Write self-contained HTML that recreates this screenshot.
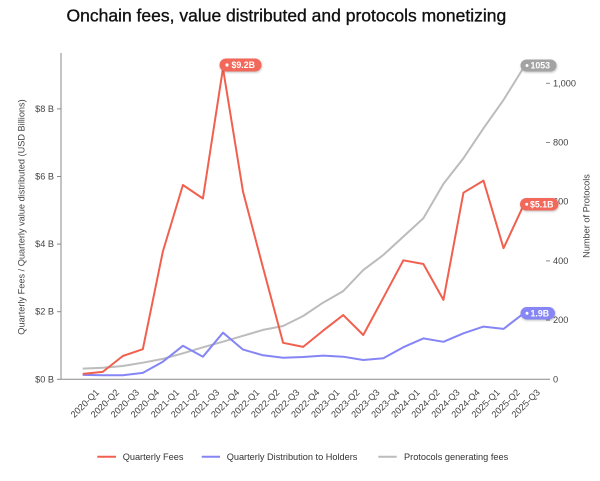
<!DOCTYPE html>
<html>
<head>
<meta charset="utf-8">
<style>
  html,body{margin:0;padding:0;background:#ffffff;}
  body{width:600px;height:481px;overflow:hidden;}
  svg{display:block;font-family:"Liberation Sans",Arial,sans-serif;}
</style>
</head>
<body>
<svg width="600" height="481" viewBox="0 0 600 481" xmlns="http://www.w3.org/2000/svg">
  <defs>
    <filter id="sh" x="-20%" y="-40%" width="140%" height="180%">
      <feDropShadow dx="0.5" dy="1" stdDeviation="1" flood-color="#000" flood-opacity="0.25"/>
    </filter>
  </defs>

  <!-- Title -->
  <text x="66.5" y="21.5" font-size="17.5" fill="#111" stroke="#111" stroke-width="0.35">Onchain fees, value distributed and protocols monetizing</text>

  <!-- Left axis -->
  <line x1="61" y1="53" x2="61" y2="379.3" stroke="#8a8a8a" stroke-width="1"/>
  <g stroke="#8a8a8a" stroke-width="1">
    <line x1="57" y1="379.3" x2="61" y2="379.3"/>
    <line x1="57" y1="311.7" x2="61" y2="311.7"/>
    <line x1="57" y1="244.1" x2="61" y2="244.1"/>
    <line x1="57" y1="176.5" x2="61" y2="176.5"/>
    <line x1="57" y1="108.9" x2="61" y2="108.9"/>
  </g>
  <g font-size="9.2" fill="#444" text-anchor="end" dominant-baseline="central">
    <text x="54" y="379.3">$0 B</text>
    <text x="54" y="311.7">$2 B</text>
    <text x="54" y="244.1">$4 B</text>
    <text x="54" y="176.5">$6 B</text>
    <text x="54" y="108.9">$8 B</text>
  </g>
  <text transform="translate(21.7,217) rotate(-90)" font-size="9.2" fill="#444" text-anchor="middle" dominant-baseline="central">Quarterly Fees / Quarterly value distributed (USD Billions)</text>

  <!-- Bottom axis -->
  <line x1="61" y1="379.3" x2="550" y2="379.3" stroke="#8a8a8a" stroke-width="1"/>

  <!-- Right axis ticks -->
  <g stroke="#8a8a8a" stroke-width="1">
    <line x1="546" y1="320.1" x2="550" y2="320.1"/>
    <line x1="546" y1="260.9" x2="550" y2="260.9"/>
    <line x1="546" y1="201.7" x2="550" y2="201.7"/>
    <line x1="546" y1="142.5" x2="550" y2="142.5"/>
    <line x1="546" y1="83.3" x2="550" y2="83.3"/>
  </g>
  <g font-size="9.2" fill="#444" dominant-baseline="central">
    <text x="553" y="379.3">0</text>
    <text x="553" y="320.1">200</text>
    <text x="553" y="260.9">400</text>
    <text x="553" y="201.7">600</text>
    <text x="553" y="142.5">800</text>
    <text x="553" y="83.3">1,000</text>
  </g>
  <text transform="translate(586.7,216) rotate(-90)" font-size="9.2" fill="#444" text-anchor="middle" dominant-baseline="central">Number of Protocols</text>

  <!-- X labels -->
  <g font-size="9.2" fill="#444" text-anchor="end">
    <text transform="translate(99.7,393) rotate(-45)">2020-Q1</text>
    <text transform="translate(119.74,393) rotate(-45)">2020-Q2</text>
    <text transform="translate(139.78,393) rotate(-45)">2020-Q3</text>
    <text transform="translate(159.82,393) rotate(-45)">2020-Q4</text>
    <text transform="translate(179.86,393) rotate(-45)">2021-Q1</text>
    <text transform="translate(199.9,393) rotate(-45)">2021-Q2</text>
    <text transform="translate(219.94,393) rotate(-45)">2021-Q3</text>
    <text transform="translate(239.98,393) rotate(-45)">2021-Q4</text>
    <text transform="translate(260.02,393) rotate(-45)">2022-Q1</text>
    <text transform="translate(280.06,393) rotate(-45)">2022-Q2</text>
    <text transform="translate(300.1,393) rotate(-45)">2022-Q3</text>
    <text transform="translate(320.14,393) rotate(-45)">2022-Q4</text>
    <text transform="translate(340.18,393) rotate(-45)">2023-Q1</text>
    <text transform="translate(360.22,393) rotate(-45)">2023-Q2</text>
    <text transform="translate(380.26,393) rotate(-45)">2023-Q3</text>
    <text transform="translate(400.3,393) rotate(-45)">2023-Q4</text>
    <text transform="translate(420.34,393) rotate(-45)">2024-Q1</text>
    <text transform="translate(440.38,393) rotate(-45)">2024-Q2</text>
    <text transform="translate(460.42,393) rotate(-45)">2024-Q3</text>
    <text transform="translate(480.46,393) rotate(-45)">2024-Q4</text>
    <text transform="translate(500.5,393) rotate(-45)">2025-Q1</text>
    <text transform="translate(520.54,393) rotate(-45)">2025-Q2</text>
    <text transform="translate(540.58,393) rotate(-45)">2025-Q3</text>
  </g>

  <!-- Series: Protocols (gray) -->
  <polyline fill="none" stroke="#bcbcbc" stroke-width="2" stroke-linejoin="round"
    points="82.7,368.6 102.74,367.8 122.78,366.0 142.82,362.7 162.86,358.9 182.9,353.3 202.94,347.3 222.98,341.7 243.02,335.8 263.06,329.9 283.1,326.0 303.14,316.0 323.18,302.6 343.22,291.1 363.26,270.1 383.3,255.0 403.34,236.6 423.38,218.3 443.42,183.9 463.46,158.2 483.5,128.3 503.54,99.9 523.58,67.6"/>

  <!-- Series: Distribution (blue) -->
  <polyline fill="none" stroke="#8585f6" stroke-width="2" stroke-linejoin="round"
    points="82.7,374.9 102.74,375.2 122.78,375.2 142.82,372.9 162.86,361.7 182.9,345.8 202.94,356.7 222.98,332.7 243.02,349.6 263.06,355.3 283.1,357.7 303.14,357.0 323.18,355.6 343.22,356.7 363.26,360.0 383.3,358.3 403.34,347.2 423.38,338.4 443.42,341.8 463.46,333.3 483.5,326.6 503.54,328.9 523.58,313.4"/>

  <!-- Series: Fees (red) -->
  <polyline fill="none" stroke="#f1604f" stroke-width="2" stroke-linejoin="round"
    points="82.7,373.9 102.74,371.9 122.78,356.0 142.82,349.2 162.86,251.5 182.9,185.0 202.94,198.5 222.98,68.3 243.02,191.7 263.06,267.8 283.1,342.8 303.14,346.9 323.18,330.6 343.22,315.1 363.26,335.0 383.3,297.8 403.34,260.3 423.38,264.0 443.42,299.9 463.46,192.7 483.5,180.6 503.54,248.2 523.58,205.2"/>

  <!-- Pills -->
  <g filter="url(#sh)">
    <rect x="219.5" y="58.5" width="42" height="13" rx="6.5" fill="#f2685a"/>
    <rect x="520.5" y="59.5" width="36" height="12" rx="6" fill="#a3a3a3"/>
    <rect x="520" y="198" width="38.5" height="12.5" rx="6.2" fill="#f2685a"/>
    <rect x="520.5" y="307" width="34.5" height="12.5" rx="6.2" fill="#8686f4"/>
  </g>
  <g fill="#fff">
    <circle cx="227" cy="65" r="1.6"/>
    <circle cx="527" cy="65.5" r="1.5"/>
    <circle cx="526.7" cy="204.2" r="1.5"/>
    <circle cx="527" cy="313.2" r="1.5"/>
  </g>
  <g font-size="8.8" font-weight="bold" fill="#fff" dominant-baseline="central">
    <text x="231.5" y="65.2">$9.2B</text>
    <text x="530.5" y="65.7">1053</text>
    <text x="530" y="204.4">$5.1B</text>
    <text x="530.5" y="313.4">1.9B</text>
  </g>

  <!-- Legend -->
  <line x1="97.3" y1="456.7" x2="116" y2="456.7" stroke="#f1604f" stroke-width="2"/>
  <line x1="201.7" y1="456.7" x2="220" y2="456.7" stroke="#8585f6" stroke-width="2"/>
  <line x1="378.3" y1="456.7" x2="396.7" y2="456.7" stroke="#bcbcbc" stroke-width="2"/>
  <g font-size="9.2" fill="#333" dominant-baseline="central">
    <text x="122.7" y="457">Quarterly Fees</text>
    <text x="226.7" y="457">Quarterly Distribution to Holders</text>
    <text x="404" y="457">Protocols generating fees</text>
  </g>
</svg>
</body>
</html>
